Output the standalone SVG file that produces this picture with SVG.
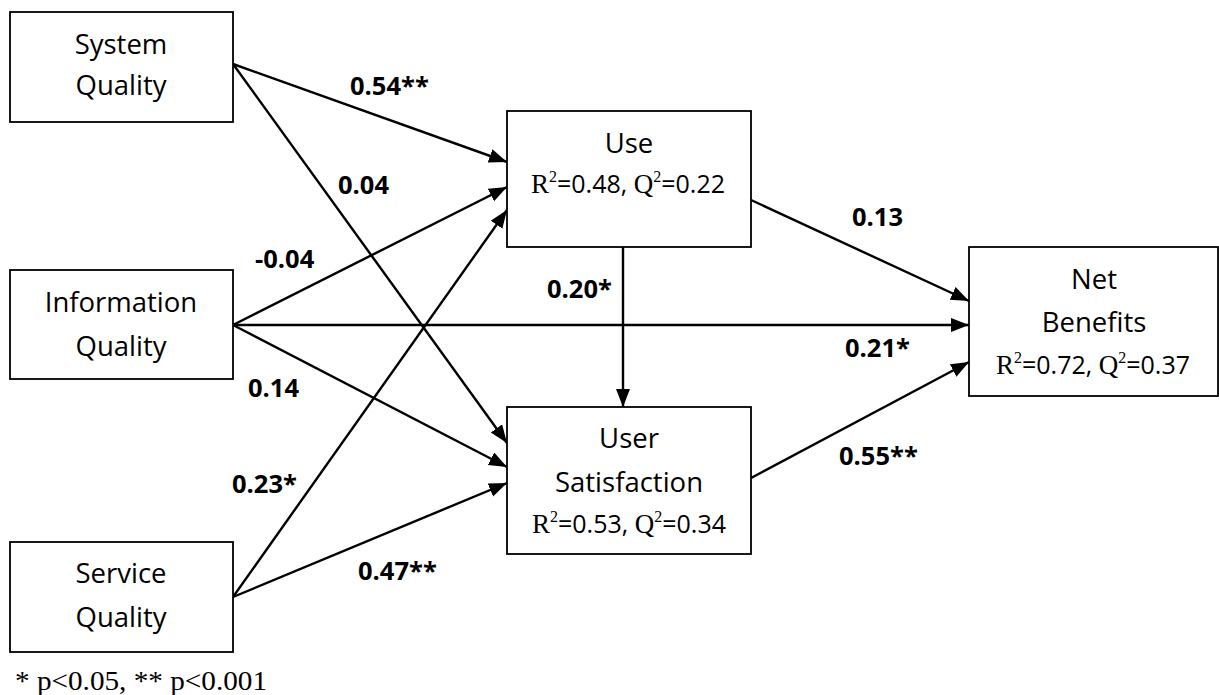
<svg xmlns="http://www.w3.org/2000/svg" width="1219" height="695" viewBox="0 0 1219 695">
<style>
.box{fill:#fff;stroke:#000;stroke-width:1.8}
.t{font-family:"Open Sans","Liberation Sans",sans-serif;font-size:27.5px;fill:#000;text-anchor:middle}
.r{font-family:"Open Sans","Liberation Sans",sans-serif;font-size:25px;fill:#000;text-anchor:middle}
.s{font-family:"Liberation Serif",serif;font-size:27px}
.sup{font-family:"Liberation Serif",serif;font-size:16px}
.lbl{font-family:"Open Sans","Liberation Sans",sans-serif;font-size:25.5px;font-weight:bold;fill:#000}
.c{stroke:#000;stroke-width:2.4;fill:none;marker-end:url(#ah)}
.fn{font-family:"Liberation Serif",serif;font-size:28px;fill:#000}
</style>
<defs>
<marker id="ah" markerUnits="userSpaceOnUse" markerWidth="19" markerHeight="15" refX="18" refY="7" orient="auto">
<path d="M0,0 L18,7 L0,14 z" fill="#000"/>
</marker>
</defs>
<rect width="1219" height="695" fill="#fff"/>
<g id="connectors">
<line class="c" x1="233" y1="64" x2="507" y2="162"/>
<line class="c" x1="233" y1="64" x2="507" y2="443"/>
<line class="c" x1="233" y1="325" x2="507" y2="187"/>
<line class="c" x1="233" y1="325" x2="969" y2="325"/>
<line class="c" x1="233" y1="325" x2="507" y2="467"/>
<line class="c" x1="233" y1="597" x2="507" y2="210"/>
<line class="c" x1="233" y1="597" x2="507" y2="483"/>
<line class="c" x1="751" y1="200" x2="969" y2="301"/>
<line class="c" x1="623" y1="247" x2="623" y2="407"/>
<line class="c" x1="751" y1="478" x2="969" y2="362"/>
</g>
<g id="labels">
<text class="lbl" x="350" y="95">0.54**</text>
<text class="lbl" x="338" y="194">0.04</text>
<text class="lbl" x="255" y="268">-0.04</text>
<text class="lbl" x="248" y="397">0.14</text>
<text class="lbl" x="232" y="493">0.23*</text>
<text class="lbl" x="358" y="580">0.47**</text>
<text class="lbl" x="547" y="298">0.20*</text>
<text class="lbl" x="852" y="226">0.13</text>
<text class="lbl" x="845" y="357">0.21*</text>
<text class="lbl" x="839" y="465">0.55**</text>
</g>
<g id="system-quality">
<rect class="box" x="10" y="12" width="223" height="110"/>
<text class="t" x="121" y="54">System</text>
<text class="t" x="121" y="95">Quality</text>
</g>
<g id="information-quality">
<rect class="box" x="10" y="270" width="223" height="109"/>
<text class="t" x="121" y="312">Information</text>
<text class="t" x="121" y="356">Quality</text>
</g>
<g id="service-quality">
<rect class="box" x="10" y="542" width="223" height="110"/>
<text class="t" x="121" y="583">Service</text>
<text class="t" x="121" y="627">Quality</text>
</g>
<g id="use">
<rect class="box" x="507" y="111" width="244" height="136"/>
<text class="t" x="629" y="153">Use</text>
<text class="r" x="628" y="193"><tspan class="s">R</tspan><tspan class="sup" dy="-11">2</tspan><tspan dy="11">=0.48, </tspan><tspan class="s">Q</tspan><tspan class="sup" dy="-11">2</tspan><tspan dy="11">=0.22</tspan></text>
</g>
<g id="user-satisfaction">
<rect class="box" x="507" y="407" width="244" height="147"/>
<text class="t" x="629" y="448">User</text>
<text class="t" x="629" y="492">Satisfaction</text>
<text class="r" x="629" y="533"><tspan class="s">R</tspan><tspan class="sup" dy="-11">2</tspan><tspan dy="11">=0.53, </tspan><tspan class="s">Q</tspan><tspan class="sup" dy="-11">2</tspan><tspan dy="11">=0.34</tspan></text>
</g>
<g id="net-benefits">
<rect class="box" x="969" y="247" width="249" height="149"/>
<text class="t" x="1094" y="289">Net</text>
<text class="t" x="1094" y="332">Benefits</text>
<text class="r" x="1093" y="374"><tspan class="s">R</tspan><tspan class="sup" dy="-11">2</tspan><tspan dy="11">=0.72, </tspan><tspan class="s">Q</tspan><tspan class="sup" dy="-11">2</tspan><tspan dy="11">=0.37</tspan></text>
</g>
<text class="fn" x="15" y="690" textLength="252" lengthAdjust="spacingAndGlyphs">* p&lt;0.05, ** p&lt;0.001</text>
</svg>
